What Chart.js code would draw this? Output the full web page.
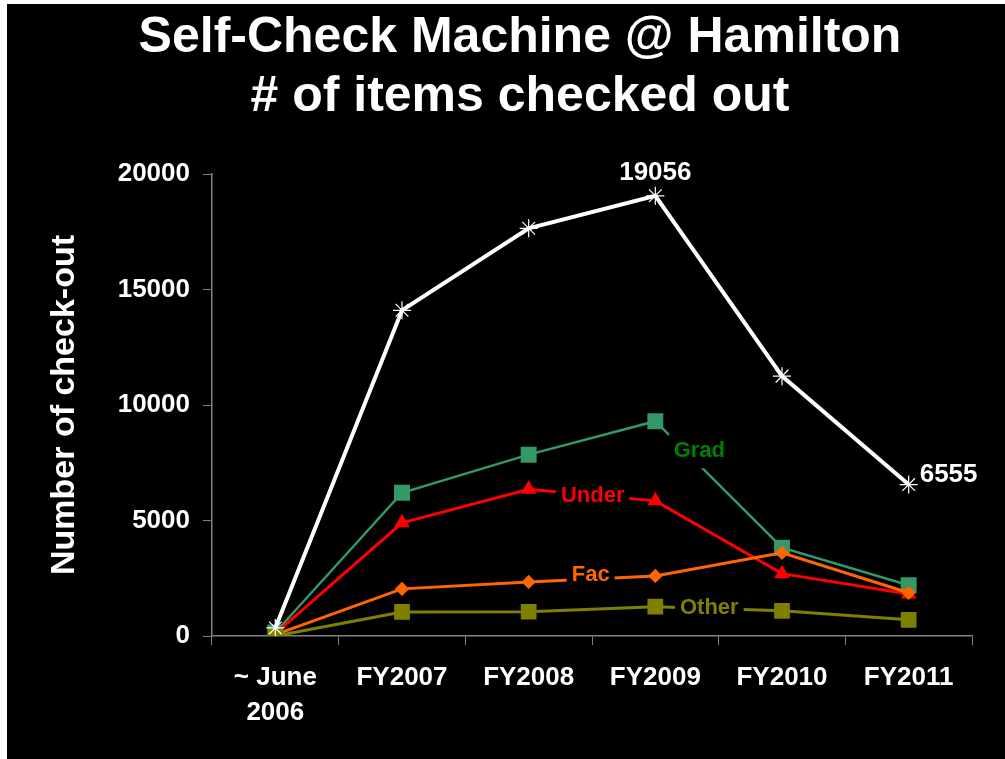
<!DOCTYPE html>
<html>
<head>
    <title>Self-Check Machine @ Hamilton</title>
    <script src="https://cdn.jsdelivr.net/npm/chart.js"></script>
    <style>
        body {
            margin: 0;
            background: #ffffff;
        }
        #wrap {
            position: absolute;
            left: 7px;
            top: 4px;
            width: 998px;
            height: 755px;
            background: #000000;
        }
    </style>
</head>
<body>
    <div id="wrap"><canvas id="checkoutChart"></canvas></div>

    <script>
        // data
        const periods = [['~ June', '2006'], 'FY2007', 'FY2008', 'FY2009', 'FY2010', 'FY2011'];
        const totalItems = [350, 14100, 17650, 19056, 11250, 6555];
        const gradItems = [150, 6200, 7850, 9300, 3820, 2200];
        const underItems = [100, 4900, 6350, 5850, 2700, 1820];
        const facItems = [60, 2040, 2340, 2600, 3600, 1870];
        const otherItems = [0, 1040, 1050, 1270, 1090, 700];
        const yTicks = [0, 5000, 10000, 15000, 20000];

        const FONT = 'Arial, "Liberation Sans", sans-serif';

        // title drawn by hand so it sits where the slide has it
        const slideTitle = {
            id: 'slideTitle',
            afterDraw(chart) {
                const c = chart.ctx;
                c.save();
                c.fillStyle = '#ffffff';
                c.font = 'bold 50px ' + FONT;
                c.textAlign = 'center';
                c.textBaseline = 'middle';
                c.fillText('Self-Check Machine @ Hamilton', 513, 34);
                c.fillText('# of items checked out', 513, 93);
                c.restore();
            }
        };

        // line labels with black boxes that cut the lines
        const lineLabels = {
            id: 'lineLabels',
            afterDatasetsDraw(chart, args, opts) {
                const c = chart.ctx;
                c.save();
                opts.items.forEach(function(it) {
                    const pt = chart.getDatasetMeta(it.ds).data[it.idx];
                    const x = pt.x + it.dx, y = pt.y + it.dy;
                    c.font = 'bold ' + it.size + 'px ' + FONT;
                    const w = c.measureText(it.text).width;
                    const left = it.align === 'left' ? x : x - w / 2;
                    if (it.box) {
                        c.fillStyle = '#000000';
                        c.fillRect(left - 5, y - it.size / 2 - 6, w + 10, it.size + 12);
                    }
                    c.fillStyle = it.color;
                    c.textAlign = 'left';
                    c.textBaseline = 'middle';
                    c.fillText(it.text, left, y);
                });
                c.restore();
            }
        };

        const ctx = document.getElementById('checkoutChart').getContext('2d');
        const checkoutChart = new Chart(ctx, {
            type: 'line',
            data: {
                labels: periods,
                datasets: [
                    {
                        label: 'Total',
                        data: totalItems,
                        borderColor: '#ffffff',
                        backgroundColor: '#ffffff',
                        borderWidth: 4,
                        pointStyle: 'star',
                        pointRadius: 9,
                        pointBorderWidth: 1.2,
                        order: 0
                    },
                    {
                        label: 'Grad',
                        data: gradItems,
                        borderColor: '#339966',
                        backgroundColor: '#339966',
                        borderWidth: 2.5,
                        pointStyle: 'rect',
                        pointRadius: 9.5,
                        order: 4
                    },
                    {
                        label: 'Under',
                        data: underItems,
                        borderColor: '#ff0000',
                        backgroundColor: '#ff0000',
                        borderWidth: 3,
                        pointStyle: 'triangle',
                        pointRadius: 6,
                        order: 3
                    },
                    {
                        label: 'Fac',
                        data: facItems,
                        borderColor: '#ff6600',
                        backgroundColor: '#ff6600',
                        borderWidth: 3,
                        pointStyle: 'rectRot',
                        pointRadius: 5,
                        order: 2
                    },
                    {
                        label: 'Other',
                        data: otherItems,
                        borderColor: '#808000',
                        backgroundColor: '#808000',
                        borderWidth: 3,
                        pointStyle: 'rect',
                        pointRadius: 9,
                        order: 1
                    }
                ]
            },
            options: {
                animation: false,
                responsive: true,
                maintainAspectRatio: false,
                layout: { padding: { top: 170, right: 33, bottom: 0, left: 0 } },
                elements: { line: { tension: 0, fill: false } },
                plugins: {
                    legend: { display: false },
                    tooltip: { enabled: false },
                    lineLabels: {
                        items: [
                            { ds: 0, idx: 3, dx: 0, dy: -23, text: String(totalItems[3]), color: '#ffffff', size: 26, box: false },
                            { ds: 0, idx: 5, dx: 11, dy: -10, text: String(totalItems[5]), color: '#ffffff', size: 26, box: false, align: 'left' },
                            { ds: 1, idx: 3, dx: 44, dy: 30, text: 'Grad', color: '#008000', size: 22, box: true },
                            { ds: 2, idx: 2, dx: 64, dy: 7, text: 'Under', color: '#ff0000', size: 22, box: true },
                            { ds: 3, idx: 2, dx: 62, dy: -7, text: 'Fac', color: '#ff6600', size: 22, box: true },
                            { ds: 4, idx: 3, dx: 54, dy: 1, text: 'Other', color: '#808000', size: 22, box: true }
                        ]
                    }
                },
                scales: {
                    x: {
                        offset: true,
                        afterFit: function(scale) { scale.height = 123; },
                        grid: {
                            offset: true,
                            drawOnChartArea: false,
                            drawTicks: true,
                            tickLength: 9,
                            color: '#808080'
                        },
                        border: { display: true, color: '#808080', width: 1.5 },
                        ticks: {
                            color: '#ffffff',
                            font: { family: FONT, size: 26, weight: 'bold', lineHeight: 1.35 },
                            padding: 15,
                            maxRotation: 0,
                            autoSkip: false
                        }
                    },
                    y: {
                        min: 0,
                        max: 20000,
                        afterFit: function(scale) { scale.width = 205; },
                        afterBuildTicks: function(scale) {
                            scale.ticks = yTicks.map(function(v) { return { value: v }; });
                        },
                        grid: {
                            drawOnChartArea: false,
                            drawTicks: true,
                            tickLength: 9,
                            color: '#808080'
                        },
                        border: { display: true, color: '#808080', width: 1.5 },
                        ticks: {
                            color: '#ffffff',
                            font: { family: FONT, size: 26, weight: 'bold' },
                            padding: 13,
                            callback: function(v) { return String(v); }
                        },
                        title: {
                            display: true,
                            text: 'Number of check-out',
                            color: '#ffffff',
                            font: { family: FONT, size: 34, weight: 'bold', lineHeight: 1.2 },
                            padding: { top: 37, bottom: 0 }
                        }
                    }
                }
            },
            plugins: [slideTitle, lineLabels]
        });
    </script>
</body>
</html>
